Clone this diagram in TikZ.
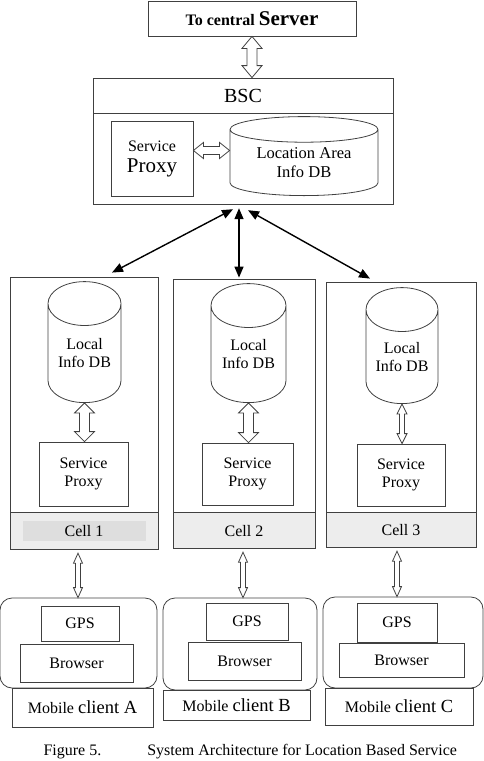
\documentclass[tikz,border=0pt]{standalone}
\usepackage{fontspec}
\setmainfont{Liberation Serif}
\usetikzlibrary{arrows.meta,positioning,calc,shapes.geometric}
\newcommand\pxsize[1]{\fontsize{#1}{#1}\selectfont}

\begin{document}
\begin{tikzpicture}[x=1pt, y=-1pt,
  box/.style={draw=black!75, line width=.8pt, inner sep=2pt, align=center,
              font=\pxsize{16}},
  dbase/.style={draw=black!75, line width=.8pt, cylinder, shape border rotate=90,
                align=center, inner sep=0pt, anchor=south, font=\pxsize{16}},
  bar/.style={box, fill=black!7},
  phone/.style={box, rounded corners=12pt},
  link/.style={{Triangle[length=11pt,width=9pt]}-{Triangle[length=11pt,width=9pt]},
               line width=1.4pt, black},
  hollow/.style n args={3}{draw=black!75, line width=.8pt, to path={
    -- ($(\tikztostart)!#3!(\tikztotarget)!#2!90:(\tikztotarget)$)
    -- ($(\tikztostart)!#3!(\tikztotarget)!#1!90:(\tikztotarget)$)
    -- ($(\tikztotarget)!#3!(\tikztostart)!#1!-90:(\tikztostart)$)
    -- ($(\tikztotarget)!#3!(\tikztostart)!#2!-90:(\tikztostart)$)
    -- (\tikztotarget)
    -- ($(\tikztotarget)!#3!(\tikztostart)!#2!90:(\tikztostart)$)
    -- ($(\tikztotarget)!#3!(\tikztostart)!#1!90:(\tikztostart)$)
    -- ($(\tikztostart)!#3!(\tikztotarget)!#1!-90:(\tikztotarget)$)
    -- ($(\tikztostart)!#3!(\tikztotarget)!#2!-90:(\tikztotarget)$)
    -- cycle}}
]
\useasboundingbox (0,0) rectangle (484,761);

\node[box, minimum width=208pt, minimum height=35pt] (srv) at (252,18.5)
  {\bfseries To central {\pxsize{21}Server}};
\node[box, minimum width=300pt, minimum height=35pt, font=\pxsize{20}] (bsctop)
  at (243,95.5) {BSC};
\node[box, minimum width=300pt, minimum height=91pt, below=0pt of bsctop] (bsc) {};
\node[box, minimum width=82pt, minimum height=75pt] (sp0) at (152,158.5)
  {Service\\[5pt]{\pxsize{21}Proxy}};
\node[dbase, minimum width=148pt, minimum height=79pt, aspect=.27,
      font=\pxsize{16.5}] (ladb) at (304,196) {Location Area\\[2pt]Info DB};

\node[box, minimum width=148pt, minimum height=235pt] (cell1) at (84,394.5) {};
\node[box, minimum width=142pt, minimum height=233pt] (cell2) at (244,395.5) {};
\node[box, minimum width=150pt, minimum height=230pt] (cell3) at (401,397) {};
\node[bar, minimum width=148pt, minimum height=37pt, below=0pt of cell1] (bar1) {};
\node[fill=black!13, minimum width=123pt, minimum height=20pt, font=\pxsize{16}]
  (tag1) at (bar1) {Cell 1};
\node[bar, minimum width=142pt, minimum height=36pt, below=0pt of cell2] (bar2) {Cell 2};
\node[bar, minimum width=150pt, minimum height=35pt, below=0pt of cell3] (bar3) {Cell 3};

\node[dbase, minimum width=73pt, minimum height=121pt, aspect=.83] (db1)
  at (84.5,403) {Local\\[2pt]Info DB};
\node[dbase, minimum width=75pt, minimum height=119pt, aspect=.83] (db2)
  at (248.5,403) {Local\\[2pt]Info DB};
\node[dbase, minimum width=72pt, minimum height=116pt, aspect=.83] (db3)
  at (402,404) {Local\\[2pt]Info DB};
\node[box, minimum width=89pt, minimum height=64pt] (sp1) at (83.5,474)
  {Service\\[2pt]Proxy};
\node[box, minimum width=91pt, minimum height=62pt] (sp2) at (247.5,474)
  {Service\\[2pt]Proxy};
\node[box, minimum width=88pt, minimum height=62pt] (sp3) at (401,475)
  {Service\\[2pt]Proxy};

\node[phone, minimum width=157pt, minimum height=90pt] (mobA) at (78.5,643) {};
\node[phone, minimum width=154pt, minimum height=92pt] (mobB) at (240,644) {};
\node[phone, minimum width=160pt, minimum height=91pt] (mobC) at (403,642.5) {};
\node[box, minimum width=78pt, minimum height=35pt] (gpsA) at (80,623.5) {GPS};
\node[box, minimum width=113pt, minimum height=38pt] (browA) at (76.5,663) {Browser};
\node[box, minimum width=82pt, minimum height=37pt] (gpsB) at (247,621.5) {GPS};
\node[box, minimum width=113pt, minimum height=38pt] (browB) at (244.5,661) {Browser};
\node[box, minimum width=80pt, minimum height=39pt] (gpsC) at (397,622.5) {GPS};
\node[box, minimum width=125pt, minimum height=34pt] (browC) at (401.5,660) {Browser};
\node[box, minimum width=141pt, minimum height=39pt] (labA) at (82.5,707.5)
  {Mobile {\pxsize{18.5}client A}};
\node[box, minimum width=147pt, minimum height=30pt] (labB) at (236.5,705)
  {Mobile {\pxsize{18.5}client B}};
\node[box, minimum width=148pt, minimum height=37pt] (labC) at (399,706.5)
  {Mobile {\pxsize{18.5}client C}};

\coordinate (srvin) at ([xshift=9pt]bsctop.north);
\coordinate (spout) at ([yshift=8pt]sp0.east);
\coordinate (dbin) at (spout -| ladb.west);
\coordinate (in1) at (db1.south |- sp1.north);
\coordinate (in2) at (db2.south |- sp2.north);
\coordinate (in3) at (db3.south |- sp3.north);
\coordinate (out1) at ([xshift=-6pt,yshift=-3pt]bar1.south);
\coordinate (out2) at ([xshift=-1pt,yshift=-3pt]bar2.south);
\coordinate (out3) at ([xshift=-4pt,yshift=-3pt]bar3.south);
\coordinate (ph1) at (out1 |- mobA.north);
\coordinate (ph2) at (out2 |- mobB.north);
\coordinate (ph3) at (out3 |- mobC.north);

\draw[hollow={5pt}{10pt}{12pt}] (srv.south) to (srvin);
\draw[hollow={4pt}{8pt}{10pt}] (spout) to (dbin);
\draw[hollow={5pt}{10pt}{10pt}] (db1.south) to (in1);
\draw[hollow={5pt}{10pt}{10pt}] (db2.south) to (in2);
\draw[hollow={2.5pt}{5pt}{10pt}] (db3.south) to (in3);
\draw[hollow={2.5pt}{4.5pt}{10pt}] (out1) to (ph1);
\draw[hollow={2.5pt}{4.5pt}{10pt}] (out2) to (ph2);
\draw[hollow={2.5pt}{4.5pt}{10pt}] (out3) to (ph3);

\draw[link] ([xshift=-10pt,yshift=-4pt]bsc.south) -- ([xshift=28pt,yshift=4pt]cell1.north);
\draw[link] ([xshift=-4pt,yshift=-3pt]bsc.south) -- ([xshift=-5pt,yshift=1pt]cell2.north);
\draw[link] ([xshift=5pt,yshift=-5pt]bsc.south) -- ([xshift=-31pt,yshift=3pt]cell3.north);

\node[anchor=west, font=\pxsize{16}] (cap) at (40,752)
  {Figure 5.\hspace{46pt}System Architecture for Location Based Service};
\end{tikzpicture}
\end{document}
